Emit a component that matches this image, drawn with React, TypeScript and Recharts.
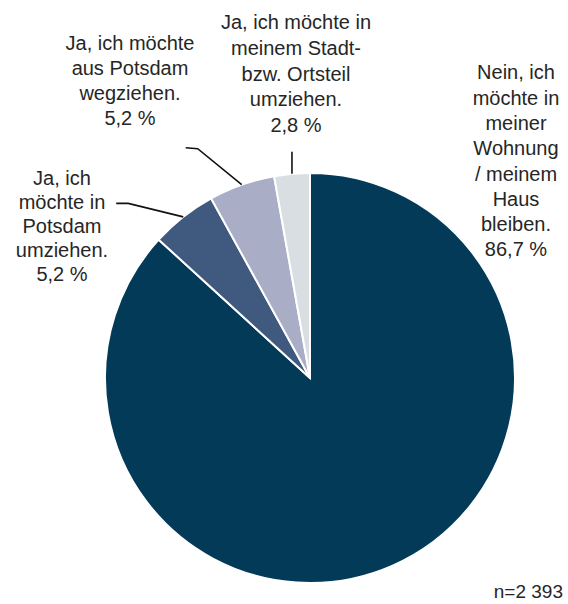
import React from 'react';
import { PieChart, Pie, Cell } from 'recharts';

// ---- Data ----
const categories: string[][] = [
  ['Nein, ich', 'möchte in', 'meiner', 'Wohnung', '/ meinem', 'Haus', 'bleiben.'],
  ['Ja, ich', 'möchte in', 'Potsdam', 'umziehen.'],
  ['Ja, ich möchte', 'aus Potsdam', 'wegziehen.'],
  ['Ja, ich möchte in', 'meinem Stadt-', 'bzw. Ortsteil', 'umziehen.'],
];
const values: number[] = [86.7, 5.2, 5.2, 2.8];
const sampleNote = 'n=2 393';

// ---- Styles / layout ----
const COLORS = ['#023a58', '#40597f', '#a9aec6', '#d9dee3'];
const FONT = '"Liberation Sans", Arial, sans-serif';
const TEXT_COLOR = '#262626';

// label text position relative to pie centre, line spacing; leader: elbow offset from edge point, end offset from elbow
const LABEL_LAYOUT = [
  { dx: 206, dy: -298.7, lh: 25.3, leader: null },
  { dx: -248, dy: -193, lh: 24, leader: { ex: -55, ey: -13.5, hx: -12, hy: 0 } },
  { dx: -180, dy: -328, lh: 25, leader: { ex: -44, ey: -36, hx: -12, hy: -1 } },
  { dx: -14, dy: -348.7, lh: 25.6, leader: { ex: 0, ey: -22, hx: 0, hy: 0 } },
];

const data = categories.map((lines, i) => ({ name: lines.join(' '), value: values[i] }));
const fmt = (v: number) => v.toFixed(1).replace('.', ',') + ' %';

const RADIAN = Math.PI / 180;

const renderLabel = (props: any) => {
  const { cx, cy, midAngle, outerRadius, index } = props;
  const lay = LABEL_LAYOUT[index];
  const lines = [...categories[index], fmt(values[index])];
  const tx = cx + lay.dx;
  const ty = cy + lay.dy;
  let leader = null;
  if (lay.leader) {
    const px = cx + outerRadius * Math.cos(-midAngle * RADIAN);
    const py = cy + outerRadius * Math.sin(-midAngle * RADIAN);
    const bx = px + lay.leader.ex;
    const by = py + lay.leader.ey;
    const qx = bx + lay.leader.hx;
    const qy = by + lay.leader.hy;
    leader = (
      <polyline
        points={`${px},${py} ${bx},${by} ${qx},${qy}`}
        fill="none"
        stroke="#111"
        strokeWidth={1.6}
      />
    );
  }
  return (
    <g>
      {leader}
      <text
        x={tx}
        y={ty}
        textAnchor="middle"
        fontFamily={FONT}
        fontSize={20}
        fill={TEXT_COLOR}
      >
        {lines.map((l, k) => (
          <tspan key={k} x={tx} dy={k === 0 ? 0 : lay.lh}>
            {l}
          </tspan>
        ))}
      </text>
    </g>
  );
};

export default function App() {
  return (
    <div style={{ position: 'absolute', left: 0, top: 0, width: 568, height: 604, background: '#fff' }}>
      <PieChart width={568} height={604} margin={{ top: 0, right: 0, bottom: 0, left: 0 }}>
        <Pie
          data={data}
          dataKey="value"
          nameKey="name"
          cx={310}
          cy={378}
          outerRadius={205}
          startAngle={90}
          endAngle={-270}
          stroke="#ffffff"
          strokeWidth={2}
          label={renderLabel}
          labelLine={false}
          isAnimationActive={false}
        >
          {data.map((_, i) => (
            <Cell key={i} fill={COLORS[i]} />
          ))}
        </Pie>
        <text x={563} y={598} textAnchor="end" fontFamily={FONT} fontSize={19} fill={TEXT_COLOR}>
          {sampleNote}
        </text>
      </PieChart>
    </div>
  );
}
